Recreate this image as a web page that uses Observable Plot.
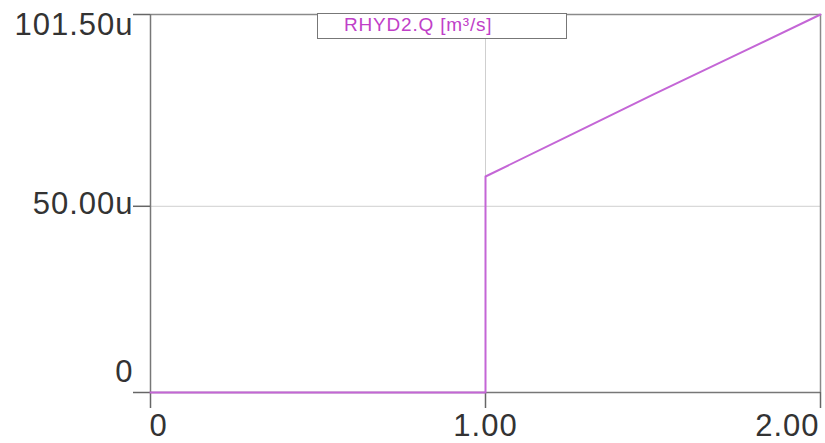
<!DOCTYPE html>
<html>
<head>
<meta charset="utf-8">
<script src="https://cdn.jsdelivr.net/npm/d3@7"></script>
<script src="https://cdn.jsdelivr.net/npm/@observablehq/plot@0.6"></script>
<style>
  html, body { margin: 0; padding: 0; background: #fff; }
  #wrap { position: relative; width: 825px; height: 443px; }
  #legend {
    position: absolute; left: 317px; top: 13px; width: 250px; height: 26px;
    border: 1.5px solid #777; background: #fff; box-sizing: border-box;
    font-family: "Liberation Sans", Arial, sans-serif; font-size: 19px; color: #c040c8;
    letter-spacing: 0.8px; padding-left: 26px; line-height: 22px;
  }
</style>
</head>
<body>
<div id="wrap"></div>
<script>
// Data (time in s, flow in µ-units "u")
const time = [0, 1.0, 1.0, 1.25, 1.5, 1.75, 2.0];
const flow = [0, 0, 58, 69, 80, 90.7, 101.5];
const seriesName = "RHYD2.Q [m³/s]";
const xTicks = [0, 1, 2];
const xTickLabels = ["0", "1.00", "2.00"];
const yTicks = [0, 50, 101.5];
const yTickLabels = ["0", "50.00u", "101.50u"];

const data = time.map((t, i) => ({t, q: flow[i]}));
const xt = xTicks.map((v, i) => ({v, label: xTickLabels[i]}));
const yt = yTicks.map((v, i) => ({v, label: yTickLabels[i]}));

const font = "Liberation Sans, Arial, sans-serif";
const lineColor = "#c466d6";
const lab = {fontSize: 31, fill: "#333"};

const chart = Plot.plot({
  width: 825,
  height: 443,
  marginLeft: 150,
  marginRight: 5,
  marginTop: 14,
  marginBottom: 51,
  style: {fontFamily: font, background: "#fff", letterSpacing: "1px"},
  x: {type: "linear", domain: [0, 2], axis: null},
  y: {type: "linear", domain: [0, 101.5], axis: null},
  marks: [
    // grid
    Plot.ruleX([1], {stroke: "#cfcfcf", strokeWidth: 1}),
    Plot.ruleY([50], {stroke: "#cfcfcf", strokeWidth: 1}),
    // frame top/right
    Plot.ruleY([101.5], {stroke: "#8a8a8a", strokeWidth: 1.5}),
    Plot.ruleX([2], {stroke: "#8a8a8a", strokeWidth: 1.5}),
    // axes lines
    Plot.ruleX([0], {stroke: "#777", strokeWidth: 1.5}),
    Plot.ruleY([0], {stroke: "#777", strokeWidth: 1.5}),
    // ticks
    Plot.axisY({ticks: yTicks, tickSize: 17, tickFormat: () => "", label: null, stroke: "#666", strokeWidth: 1.5}),
    Plot.axisX({ticks: xTicks, tickSize: 16, tickFormat: () => "", label: null, stroke: "#666", strokeWidth: 1.5}),
    // data line
    Plot.line(data, {x: "t", y: "q", stroke: lineColor, strokeWidth: 2}),
    // y labels
    Plot.text(yt.filter(d => d.v === 101.5), {x: 0, y: "v", text: "label", textAnchor: "end", dx: -17, dy: 11, ...lab}),
    Plot.text(yt.filter(d => d.v === 50), {x: 0, y: "v", text: "label", textAnchor: "end", dx: -17, dy: -2, ...lab}),
    Plot.text(yt.filter(d => d.v === 0), {x: 0, y: "v", text: "label", textAnchor: "end", dx: -17, dy: -20, ...lab}),
    // x labels
    Plot.text(xt.filter(d => d.v === 0), {x: "v", y: 0, text: "label", textAnchor: "start", dx: -1, dy: 34, ...lab}),
    Plot.text(xt.filter(d => d.v === 1), {x: "v", y: 0, text: "label", textAnchor: "middle", dy: 34, ...lab}),
    Plot.text(xt.filter(d => d.v === 2), {x: "v", y: 0, text: "label", textAnchor: "end", dx: -1, dy: 34, ...lab})
  ]
});

const wrap = document.getElementById("wrap");
wrap.appendChild(chart);
const leg = document.createElement("div");
leg.id = "legend";
leg.textContent = seriesName;
wrap.appendChild(leg);
</script>
</body>
</html>
